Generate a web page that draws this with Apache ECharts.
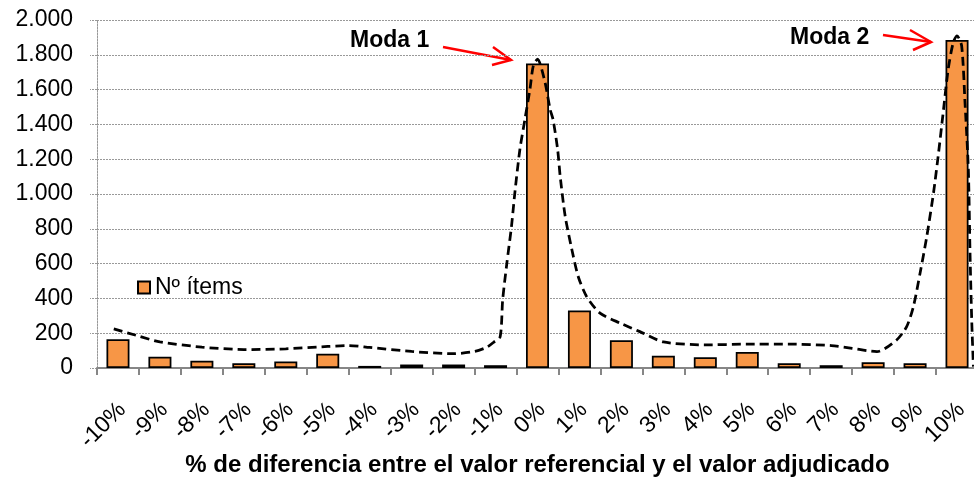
<!DOCTYPE html>
<html>
<head>
<meta charset="utf-8">
<script src="https://cdn.jsdelivr.net/npm/echarts@6/dist/echarts.min.js"></script>
<style>html,body{margin:0;padding:0;background:#fff;}#c{width:974px;height:477px;}</style>
</head>
<body>
<div id="c"></div>
<script>
const categories = ['-10%','-9%','-8%','-7%','-6%','-5%','-4%','-3%','-2%','-1%','0%','1%','2%','3%','4%','5%','6%','7%','8%','9%','10%'];
const itemCounts = [165, 65, 42, 28, 38, 82, 12, 20, 20, 16, 1750, 330, 160, 71, 62, 92, 27, 16, 33, 27, 1885];
const seriesName = 'Nº ítems';
// dashed trend curve: position in % and height
const curveX = [-10.1, -9.5, -9, -8, -7, -6, -5, -4.5, -4, -3, -2, -1.5, -1.2, -1.04, -0.89, -0.83, -0.73, -0.62, -0.54, -0.42, -0.3, -0.18, -0.1, 0, 0.18, 0.3, 0.37, 0.48, 0.54, 0.66, 0.82, 0.97, 1.17, 1.49, 1.97, 2.44, 3, 4, 5, 6, 7, 7.5, 8.09, 8.56, 8.8, 8.96, 9.12, 9.28, 9.44, 9.56, 9.67, 9.79, 9.91, 10, 10.11, 10.19, 10.27, 10.31, 10.35, 10.39];
const curveY = [225, 183, 150, 120, 106, 110, 124, 129, 118, 95, 82, 95, 120, 149, 180, 392, 603, 814, 1007, 1256, 1429, 1602, 1737, 1775, 1641, 1487, 1429, 1256, 1103, 872, 680, 526, 411, 315, 258, 209, 150, 133, 137, 137, 129, 113, 94, 161, 238, 353, 546, 757, 1007, 1237, 1468, 1718, 1871, 1909, 1852, 1526, 1141, 661, 277, 8];
const yTicks = {min: 0, max: 2000, step: 200};
const xAxisTitle = '% de diferencia entre el valor referencial y el valor adjudicado';
const notes = ['Moda 1', 'Moda 2'];

const FONT = '"Liberation Sans", Arial, sans-serif';
const chart = echarts.init(document.getElementById('c'));
const fmt = v => v >= 1000 ? Math.floor(v / 1000) + '.' + String(v % 1000).padStart(3, '0') : String(v);

chart.setOption({
  animation: false,
  backgroundColor: '#fff',
  textStyle: {fontFamily: FONT},
  grid: {left: 97, right: -4, top: 20, bottom: 109, containLabel: false, outerBoundsMode: 'none'},
  legend: {
    data: [seriesName], left: 137, top: 276, padding: 0,
    itemWidth: 12, itemHeight: 12, itemGap: 5, icon: 'rect',
    textStyle: {fontSize: 23, color: '#000', fontFamily: FONT}
  },
  xAxis: [{
    type: 'category', data: categories, boundaryGap: true,
    axisLine: {lineStyle: {color: '#868686', width: 2}},
    axisTick: {show: true, length: 7, lineStyle: {color: '#868686', width: 2}},
    axisLabel: {rotate: 45, fontSize: 23, color: '#000', margin: 34, interval: 0,
      verticalAlign: 'top', lineHeight: 12, fontFamily: FONT},
    name: xAxisTitle, nameLocation: 'middle', nameGap: 85, nameMoveOverlap: false,
    nameTextStyle: {fontSize: 24, fontWeight: 'bold', color: '#000', fontFamily: FONT}
  }, {
    type: 'value', min: -10.5, max: 10.5, show: false, gridIndex: 0
  }],
  yAxis: {
    type: 'value', min: yTicks.min, max: yTicks.max, interval: yTicks.step,
    axisLine: {show: true, onZero: false, lineStyle: {color: '#999', width: 1, type: [2, 1]}},
    axisTick: {show: true, length: 7, lineStyle: {color: '#999', width: 1, type: [2, 1]}},
    axisLabel: {fontSize: 23, color: '#000', margin: 24, formatter: fmt, fontFamily: FONT},
    splitLine: {show: true, lineStyle: {color: '#999', width: 1, type: [2, 1]}}
  },
  series: [{
    name: seriesName, type: 'bar', data: itemCounts, barWidth: 23,
    itemStyle: {color: '#F79646', borderColor: '#000', borderWidth: 1.75}
  }, {
    name: 'curva', type: 'line', xAxisIndex: 1, yAxisIndex: 0,
    data: curveX.map((x, i) => [x, curveY[i]]),
    smooth: 0.25, symbol: 'none', clip: true, z: 5,
    lineStyle: {color: '#000', width: 2.75, type: [9, 5]}
  }],
  graphic: [
    {type: 'text', left: 350, top: 29, style: {text: notes[0], font: 'bold 23px ' + FONT, fill: '#000'}},
    {type: 'text', left: 790, top: 26, style: {text: notes[1], font: 'bold 23px ' + FONT, fill: '#000'}},
    {type: 'polyline', shape: {points: [[443, 47], [511, 60]]}, style: {stroke: '#FF0000', lineWidth: 2.5, fill: null}},
    {type: 'polyline', shape: {points: [[493, 47], [511, 60], [492, 65]]}, style: {stroke: '#FF0000', lineWidth: 2.5, fill: null}},
    {type: 'polyline', shape: {points: [[883, 35], [931, 42]]}, style: {stroke: '#FF0000', lineWidth: 2.5, fill: null}},
    {type: 'polyline', shape: {points: [[910, 30], [931, 42], [913, 50]]}, style: {stroke: '#FF0000', lineWidth: 2.5, fill: null}}
  ]
});
</script>
</body>
</html>
